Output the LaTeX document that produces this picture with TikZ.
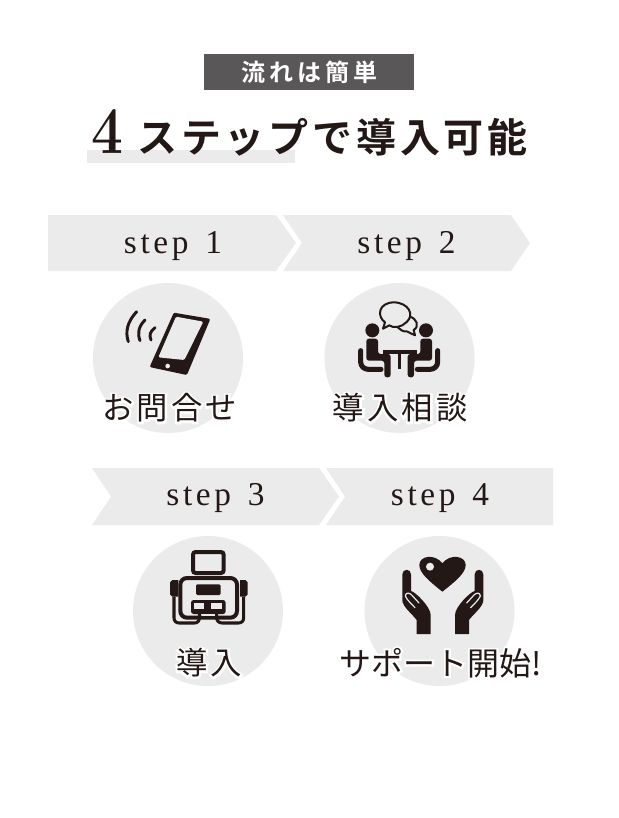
\documentclass[tikz,border=0pt]{standalone}
\usepackage{fontspec}
\setmainfont{Liberation Serif}
\newfontfamily\labelfont[LetterSpace=10]{Noto Sans CJK JP}
\newfontfamily\tightfont{Noto Sans CJK JP}
\newfontfamily\bannerfont[LetterSpace=16]{Noto Sans CJK JP Bold}
\newfontfamily\titlefont[LetterSpace=9.5]{Noto Sans CJK JP Bold}
\newfontfamily\stepfont[LetterSpace=11,WordSpace=1.4]{Liberation Serif}
\newfontfamily\digitfont{LMRoman10-Bold}
\definecolor{ink}{HTML}{231815}
\definecolor{pale}{HTML}{EBEBEB}
\definecolor{banner}{HTML}{595757}
\newcommand{\halo}[1]{\rlap{\color{white}\special{pdf:code q 2 Tr 1 1 1 RG 1 1 1 rg 3 w}#1\special{pdf:code Q}}#1}
\tikzset{
  plate/.style={fill=pale,draw=none},
  steplabel/.style={inner sep=0pt,anchor=base,text=ink,font=\stepfont\fontsize{25pt}{26pt}\selectfont},
  cjklabel/.style={inner sep=0pt,text=ink,font=\labelfont\fontsize{23.5pt}{24pt}\selectfont},
}
\begin{document}
\begin{tikzpicture}[x=0.75pt,y=-0.75pt]
\useasboundingbox (0,0) rectangle (618,818);
\fill[white] (0,0) rectangle (618,818);
% banner
\fill[banner] (204,54) rectangle (414,90);
\node[inner sep=0pt,text=white,font=\bannerfont\fontsize{18pt}{20pt}\selectfont] (banner) at (309.5,72) {流れは簡単};
% title
\fill[plate] (87,150) rectangle (295,163);
\node[inner sep=0pt,text=ink,anchor=base,transform shape,xscale=.85,font=\digitfont\fontsize{50pt}{50pt}\selectfont] (four) at (107.5,153) {4};
\node[inner sep=0pt,text=ink,anchor=center,font=\titlefont\fontsize{30pt}{32pt}\selectfont] (title) at (332.5,137) {ステップで導入可能};
% step arrows
\fill[plate] (48,215) -- (276,215) -- (296,243) -- (276,271) -- (48,271) -- cycle;
\fill[plate] (283,215) -- (511,215) -- (530,243) -- (511,271) -- (283,271) -- (302,243) -- cycle;
\fill[plate] (92,468) -- (319,468) -- (339,496.5) -- (319,525) -- (92,525) -- (111,496.5) -- cycle;
\fill[plate] (326,468) -- (553,468) -- (553,525) -- (326,525) -- (345,496.5) -- cycle;
\node[steplabel] (s1) at (173,253) {step 1};
\node[steplabel] (s2) at (406.5,253) {step 2};
\node[steplabel] (s3) at (215.5,505) {step 3};
\node[steplabel] (s4) at (440,505) {step 4};
% circles
\fill[plate] (168,358) circle[radius=75];
\fill[plate] (399.5,358) circle[radius=75];
\fill[plate] (208,611) circle[radius=75];
\fill[plate] (439.5,611) circle[radius=75];
% phone
\begin{scope}[shift={(90,280)},scale=1/3]
\filldraw[ink,line width=2.2pt,line join=round] (254,103) -- (355,120) -- (288,280) -- (185,258) -- cycle;
\fill[pale,rounded corners=1pt] (258,110) -- (340,125) -- (283,240) -- (205,232) -- cycle;
\fill[pale] (233,258) circle[radius=7];
\draw[ink,line cap=round,line width=2.2pt] (140,95) .. controls (112,125) and (105,155) .. (115,185);
\draw[ink,line cap=round,line width=2.2pt] (165,120) .. controls (145,140) and (142,160) .. (150,182);
\draw[ink,line cap=round,line width=2.2pt] (195,143) .. controls (180,155) and (177,165) .. (183,180);
\end{scope}
% people
\begin{scope}[shift={(355,298)},scale=1/3]
\draw[ink,line width=1.5pt,line join=round] (84,92) -- (90,73) .. controls (65,55) and (70,15) .. (115,13) .. controls (160,13) and (180,50) .. (155,72) .. controls (140,88) and (115,92) .. (103,82) -- cycle;
\draw[ink,line width=1.5pt,line join=round] (163,56) .. controls (185,60) and (195,85) .. (176,96) -- (180,112) -- (155,100) .. controls (145,102) and (135,95) .. (128,88);
\foreach \s/\c in {1/0,-1/265} {
\begin{scope}[shift={(\c,0)},xscale=\s]
\fill[ink] (52,97) circle[radius=21];
\fill[ink,rounded corners=2pt] (34,122) -- (69,122) -- (69,168) -- (107,168) -- (107,238) -- (88,238) -- (88,188) -- (34,188) -- cycle;
\draw[ink,line width=3.8pt,line cap=round] (17,158) -- (17,192) .. controls (17,205) and (28,214) .. (40,214) -- (78,214);
\end{scope}}
\fill[ink] (85,155) rectangle (187,168);
\fill[ink] (128,168) rectangle (138,212);
\end{scope}
% device
\begin{scope}[shift={(165,545)},scale=1/3]
\draw[ink,line width=3pt,rounded corners=2pt] (84,21) rectangle (176,84);
\draw[ink,line width=3pt,rounded corners=5pt] (46,99) rectangle (216,218);
\fill[ink,rounded corners=1pt] (93,118) rectangle (167,150);
\fill[ink,rounded corners=2pt] (78,165) rectangle (182,207);
\fill[pale] (87,173) rectangle (118,192);
\fill[pale] (137,173) rectangle (170,192);
\fill[pale] (112,207) rectangle (150,214);
\fill[ink] (15,112) -- (22,105) -- (40,105) -- (40,155) -- (22,155) -- (15,148) -- cycle;
\fill[ink] (248,112) -- (241,105) -- (225,105) -- (225,155) -- (241,155) -- (248,148) -- cycle;
\draw[ink,line width=2.3pt] (27,155) -- (27,218) .. controls (27,228) and (33,234) .. (43,234) -- (88,234) .. controls (98,234) and (103,228) .. (103,218) -- (103,200);
\draw[ink,line width=2.3pt] (236,155) -- (236,218) .. controls (236,228) and (230,234) .. (220,234) -- (172,234) .. controls (162,234) and (155,228) .. (155,218) -- (155,200);
\end{scope}
% hands
\begin{scope}[shift={(335,535)},scale=1/3]
\fill[ink] (322,170) .. controls (285,140) and (253,115) .. (253,90) .. controls (253,62) and (300,55) .. (322,85) .. controls (345,55) and (392,62) .. (392,90) .. controls (392,115) and (360,140) .. (322,170) -- cycle;
\fill[pale] (285,95) circle[radius=12];
\foreach \s/\c in {1/0,-1/647} {
\begin{scope}[shift={(\c,0)},xscale=\s]
\fill[ink] (202,118) .. controls (202,100) and (228,100) .. (228,118) -- (228,168) .. controls (240,170) and (287,215) .. (287,240) -- (287,297) -- (245,297) -- (245,255) .. controls (230,235) and (202,215) .. (202,195) -- cycle;
\draw[pale,line width=0.9pt,line cap=round] (211,183) .. controls (212,172) and (222,172) .. (230,180) -- (252,204);
\draw[pale,line width=0.9pt,line cap=round] (211,183) .. controls (216,195) and (228,205) .. (240,218);
\end{scope}}
\end{scope}
% labels
\node[cjklabel] (l1) at (169.5,408) {\halo{お問合せ}};
\node[cjklabel] (l2) at (400,408) {\halo{導入相談}};
\node[cjklabel] (l3) at (209,663) {\halo{導入}};
\node[inner sep=0pt,text=ink,font=\tightfont\fontsize{24pt}{24pt}\selectfont] (l4) at (440.5,663) {\halo{サポート開始!}};
\end{tikzpicture}
\end{document}
